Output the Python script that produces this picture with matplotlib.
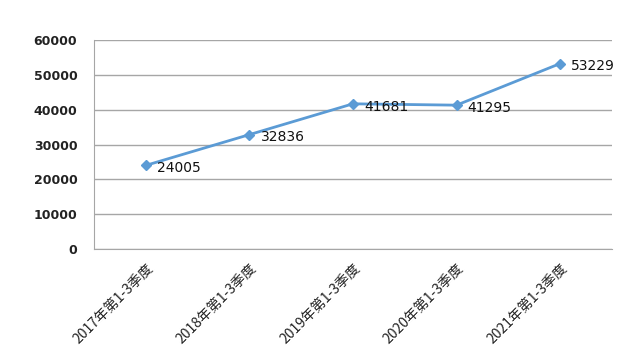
import matplotlib.pyplot as plt

plt.rcParams['font.family'] = ['Noto Sans CJK SC', 'DejaVu Sans']

# 数据
categories = ['2017年第1-3季度', '2018年第1-3季度', '2019年第1-3季度',
              '2020年第1-3季度', '2021年第1-3季度']
values = [24005, 32836, 41681, 41295, 53229]
yticks = [0, 10000, 20000, 30000, 40000, 50000, 60000]

fig = plt.figure(figsize=(6.25, 3.6), dpi=100)
ax = fig.add_axes([0.1504, 0.3083, 0.8286, 0.5806])

x = list(range(len(categories)))
ax.plot(x, values, color='#5b9bd5', lw=2, marker='D', ms=5, zorder=3)

# 数据标签
for xi, v in zip(x, values):
    ax.annotate(str(v), xy=(xi, v), xytext=(8, -2), textcoords='offset points',
                ha='left', va='center', fontsize=10, family='DejaVu Sans',
                color='#111111')

ax.set_xlim(-0.5, len(categories) - 0.5)
ax.set_ylim(0, 60000)
ax.set_yticks(yticks)
ax.set_yticklabels([str(t) for t in yticks], family='DejaVu Sans',
                   fontweight='bold', fontsize=9, color='#222222')
ax.set_xticks(x)
ax.set_xticklabels(categories, rotation=45, ha='right', rotation_mode='anchor',
                   fontsize=10, color='#222222')
ax.tick_params(axis='y', length=0, pad=12)
ax.tick_params(axis='x', length=0, pad=9)

ax.grid(axis='y', color='#a6a6a6', lw=1)
ax.set_axisbelow(True)
for s in ['top', 'right']:
    ax.spines[s].set_visible(False)
ax.spines['left'].set_color('#a6a6a6')
ax.spines['bottom'].set_color('#a6a6a6')

fig.savefig('out.png', dpi=100)
